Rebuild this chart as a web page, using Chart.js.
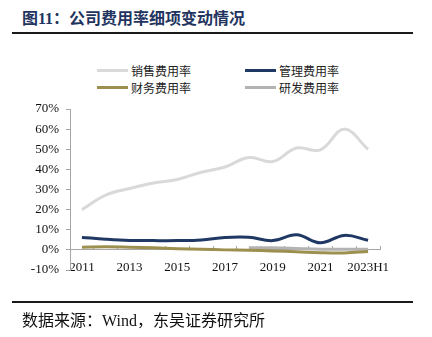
<!DOCTYPE html>
<html>
<head>
<meta charset="utf-8">
<script src="https://cdn.jsdelivr.net/npm/chart.js@4/dist/chart.umd.min.js"></script>
<style>
  body { margin: 0; background: #fff; }
  #wrap { position: relative; width: 432px; height: 337px; overflow: hidden; font-family: 'Liberation Serif', 'Noto Sans CJK SC', serif; }
  #canvas { position: absolute; left: 0; top: 0; }
  .title { position: absolute; left: 22px; top: 5px; font-size: 16px; font-weight: bold; color: #1f3560; white-space: nowrap; }
  .rule { position: absolute; left: 12px; width: 401px; height: 2px; background: #1a1a1a; }
  .src { position: absolute; left: 22px; top: 307px; font-size: 16px; color: #111; white-space: nowrap; }
  .leg { position: absolute; font-size: 12px; color: #222; white-space: nowrap; font-family: 'Noto Sans CJK SC', sans-serif; }
  .leg i { position: absolute; left: -34px; top: 7px; width: 31px; height: 3px; }
</style>
</head>
<body>
<div id="wrap">
  <div class="title">图11：公司费用率细项变动情况</div>
  <div class="rule" style="top:32px"></div>
  <div id="legend"></div>
  <canvas id="canvas" width="432" height="337"></canvas>
  <div class="rule" style="top:301px"></div>
  <div class="src">数据来源：Wind，东吴证券研究所</div>
</div>
<script>
'use strict';

var years = ['2011', '2012', '2013', '2014', '2015', '2016', '2017', '2018', '2019', '2020', '2021', '2022', '2023H1'];
var sellRate = [20, 27.2, 30.5, 33.2, 35, 38.6, 41.2, 45.9, 43.9, 50.6, 49.7, 60, 50];
var adminRate = [6.2, 5.3, 4.7, 4.6, 4.6, 4.9, 6.2, 6.3, 4.6, 7.5, 3.5, 7.2, 4.8];
var financeRate = [1.3, 1.5, 1.3, 1.0, 0.6, 0.3, 0.0, -0.2, -0.5, -0.9, -1.4, -1.5, -0.8];
var rdRate = [null, null, null, null, null, null, null, 1.0, 1.0, 0.7, 0.3, 0.3, 0.3];
var yTicks = [-10, 0, 10, 20, 30, 40, 50, 60, 70];

var series = [
    { name: '销售费用率', data: sellRate, color: '#d9d9d9' },
    { name: '管理费用率', data: adminRate, color: '#1f3864' },
    { name: '财务费用率', data: financeRate, color: '#9c8f4f' },
    { name: '研发费用率', data: rdRate, color: '#b3b3b3' }
];

// legend, 2 x 2
var legendPos = [[131, 62], [279, 62], [131, 79], [279, 79]];
var legend = document.getElementById('legend');
series.forEach(function (s, i) {
    var d = document.createElement('div');
    d.className = 'leg';
    d.style.left = legendPos[i][0] + 'px';
    d.style.top = legendPos[i][1] + 'px';
    d.innerHTML = '<i style="background:' + s.color + '"></i>' + s.name;
    legend.appendChild(d);
});

var axisColor = '#a6a6a6';
var tickFont = { family: 'Liberation Serif', size: 13 };

var ctx = document.getElementById('canvas').getContext('2d');
var myChart = new Chart(ctx, {
    type: 'line',
    data: {
        labels: years,
        datasets: series.map(function (s) {
            return {
                label: s.name,
                data: s.data,
                borderColor: s.color,
                backgroundColor: s.color,
                borderWidth: 3,
                pointRadius: 0,
                tension: 0.4,
                fill: false
            };
        })
    },
    options: {
        responsive: false,
        animation: false,
        layout: { padding: { top: 109, left: 10, right: 52, bottom: 67 } },
        plugins: {
            legend: { display: false },
            title: { display: false },
            tooltip: { enabled: false }
        },
        scales: {
            x: {
                position: { y: 0 },
                offset: true,
                afterFit: function (scale) { scale.height = 0; },
                border: { color: axisColor, width: 1 },
                grid: { offset: true, drawOnChartArea: false, drawTicks: true, tickLength: -4, color: axisColor },
                ticks: {
                    color: '#111',
                    font: tickFont,
                    padding: 14,
                    maxRotation: 0,
                    autoSkip: false,
                    callback: function (v, i) { return i % 2 === 0 ? years[i] : ''; }
                }
            },
            y: {
                min: -10,
                max: 70,
                afterFit: function (scale) { scale.width = 60; },
                afterBuildTicks: function (scale) { scale.ticks = yTicks.map(function (v) { return { value: v }; }); },
                border: { color: axisColor, width: 1 },
                grid: { drawOnChartArea: false, drawTicks: true, tickLength: 4, color: axisColor },
                ticks: {
                    color: '#111',
                    font: tickFont,
                    padding: 7,
                    callback: function (v) { return v + '%'; }
                }
            }
        }
    }
});
</script>
</body>
</html>
